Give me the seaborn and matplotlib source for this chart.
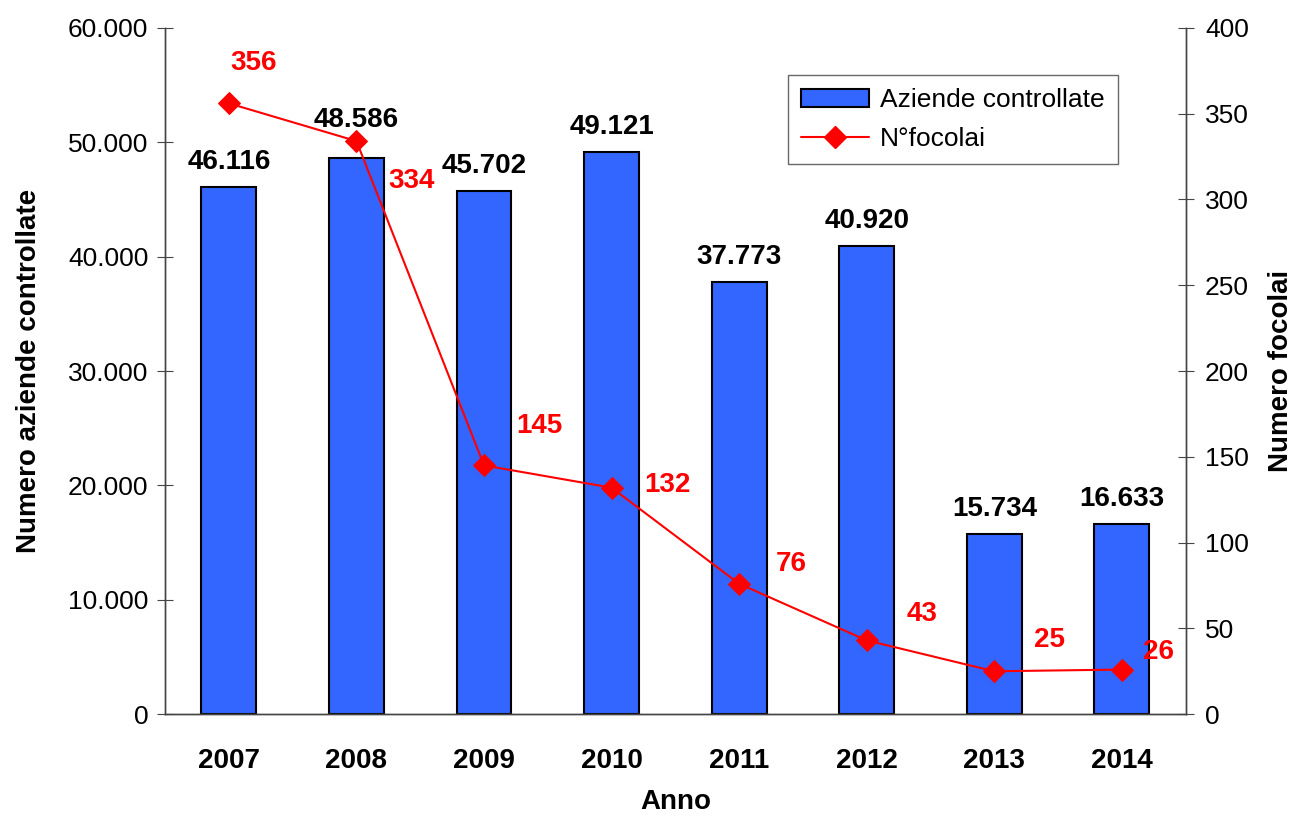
import matplotlib
matplotlib.use("Agg")
import matplotlib.pyplot as plt
import seaborn as sns
import pandas as pd
from matplotlib.lines import Line2D
from matplotlib.patches import Patch

# dati
anni = ["2007", "2008", "2009", "2010", "2011", "2012", "2013", "2014"]
aziende = [46116, 48586, 45702, 49121, 37773, 40920, 15734, 16633]
focolai = [356, 334, 145, 132, 76, 43, 25, 26]

sns.set_style("white")
plt.rcParams['font.family'] = ['Liberation Sans', 'DejaVu Sans']
plt.rcParams['text.color'] = 'black'
plt.rcParams['axes.labelcolor'] = 'black'

df = pd.DataFrame({"anno": anni, "aziende": aziende, "focolai": focolai})
FS = 19   # testo normale
FB = 20   # testo in grassetto

fig = plt.figure(figsize=(13, 8.19), dpi=100)
ax = fig.add_axes([0.127, 0.128, 0.785, 0.838])

sns.barplot(data=df, x="anno", y="aziende", color="#3366FF", edgecolor="black",
            linewidth=1.5, width=0.43, saturation=1, ax=ax)
ax.set_xlim(-0.5, len(anni) - 0.5)
ax.set_ylim(0, 60000)
ax.set_yticks(range(0, 60001, 10000))
ax.set_yticklabels([f"{v:,}".replace(",", ".") for v in range(0, 60001, 10000)], fontsize=FS)

# etichette barre
bar_off = [12, 25, 12, 12, 12, 12, 12, 12]
for i, v in enumerate(aziende):
    ax.annotate(f"{v:,}".replace(",", "."), (i, v), xytext=(0, bar_off[i]),
                textcoords="offset pixels", ha="center", va="bottom",
                fontsize=FB, fontweight="bold", color="black")

ax.set_xticks(range(len(anni)))
ax.set_xticklabels(anni, fontsize=FB, fontweight="bold")
ax.set_xticks([i - 0.5 for i in range(len(anni) + 1)], minor=True)
ax.tick_params(axis="x", which="major", length=0, pad=24, labelcolor="black")
ax.tick_params(axis="x", which="minor", direction="inout", length=12, color="#444444")
ax.tick_params(axis="y", direction="inout", length=12, color="#444444", left=True,
               labelcolor="black", pad=6)
ax.set_xlabel("Anno", fontsize=FB, fontweight="bold", labelpad=11)
ax.set_ylabel("Numero aziende controllate", fontsize=FB, fontweight="bold", labelpad=19)

ax2 = ax.twinx()
sns.lineplot(data=df, x="anno", y="focolai", color="red", marker="D", markersize=11,
             markeredgecolor="red", linewidth=1.5, sort=False, ax=ax2)
ax2.set_ylim(0, 400)
ax2.set_yticks(range(0, 401, 50))
ax2.tick_params(axis="y", direction="inout", length=12, color="#444444", right=True,
                labelsize=FS, labelcolor="black", pad=8)
ax2.set_ylabel("Numero focolai", fontsize=FB, fontweight="bold", labelpad=14)

# etichette linea
lab_off = [(25, 40), (55, -40), (55, 39), (56, 3), (52, 20), (55, 26), (55, 31), (37, 18)]
for i, v in enumerate(focolai):
    ax2.annotate(str(v), (i, v), xytext=lab_off[i], textcoords="offset pixels",
                 ha="center", va="center", fontsize=FB, fontweight="bold", color="red")

for a in (ax, ax2):
    a.spines["top"].set_visible(False)
    for s in ("left", "right", "bottom"):
        a.spines[s].set_color("#444444")
        a.spines[s].set_linewidth(1)

handles = [Patch(facecolor="#3366FF", edgecolor="black", linewidth=1.5),
           Line2D([0], [0], color="red", marker="D", markersize=11, linewidth=1.5)]
leg = ax2.legend(handles, ["Aziende controllate", "N°focolai"], loc="upper left",
                 bbox_to_anchor=(0.61, 0.931), borderaxespad=0, fontsize=FS, frameon=True,
                 fancybox=False, edgecolor="#444444", handlelength=2.6, borderpad=0.5,
                 labelspacing=0.55, handletextpad=0.4)
leg.get_frame().set_linewidth(1)

fig.savefig("out.png", dpi=100)
